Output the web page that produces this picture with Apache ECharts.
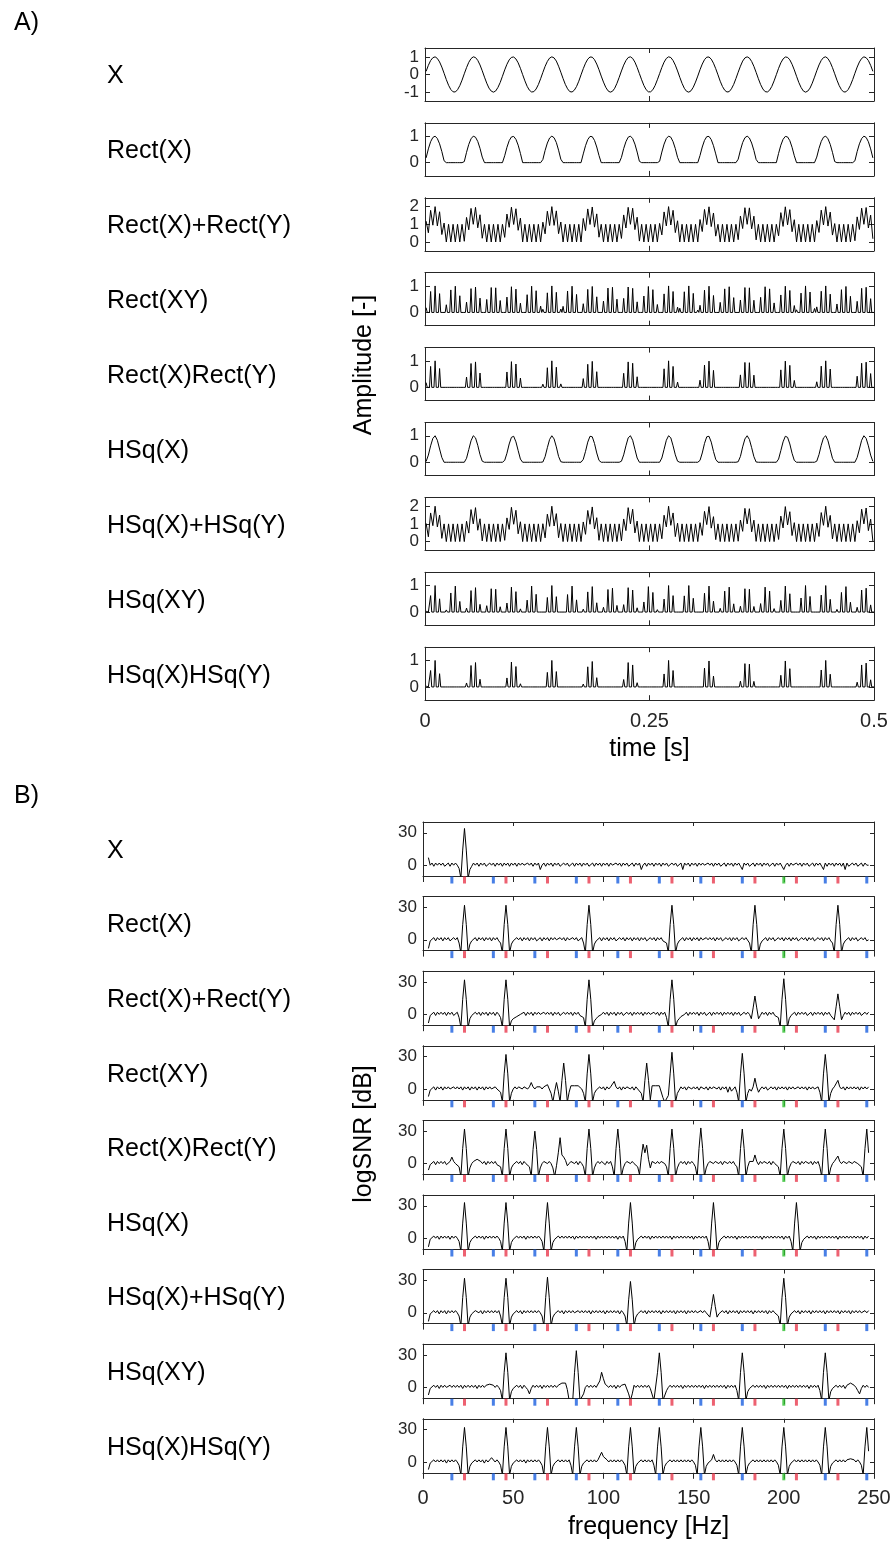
<!DOCTYPE html>
<html><head><meta charset="utf-8">
<script src="https://cdn.jsdelivr.net/npm/echarts@6.0.0/dist/echarts.min.js"></script>
<style>html,body{margin:0;padding:0;background:#fff}#c{width:895px;height:1542px}</style>
</head><body><div id="c"></div>
<script>
// ---------------- DATA ----------------
const rowLabels = ['X','Rect(X)','Rect(X)+Rect(Y)','Rect(XY)','Rect(X)Rect(Y)','HSq(X)','HSq(X)+HSq(Y)','HSq(XY)','HSq(X)HSq(Y)'];
// Panel A: time samples (s)
const tStart = 0.00125, tStep = 0.0025, tStepFine = 0.00125;
const timeTicks = [0, 0.25, 0.5];
const ampTicks = [[-1,0,1],[0,1],[0,1,2],[0,1],[0,1],[0,1],[0,1,2],[0,1],[0,1]];
const ampMin = [-1.5,-0.5,-0.5,-0.5,-0.5,-0.5,-0.5,-0.5,-0.5];
const ampMax = [1.5,1.5,2.5,1.5,1.5,1.5,2.5,1.5,1.5];

const sigX = [0.18,0.52,0.79,0.95,1,0.91,0.71,0.42,0.07,-0.29,
-0.61,-0.85,-0.98,-0.99,-0.86,-0.63,-0.32,0.04,0.39,0.69,
0.9,1,0.96,0.8,0.54,0.21,-0.15,-0.49,-0.77,-0.94,
-1,-0.93,-0.73,-0.45,-0.1,0.26,0.58,0.83,0.97,0.99,
0.88,0.66,0.35,-0.01,-0.36,-0.67,-0.89,-0.99,-0.97,-0.82,
-0.57,-0.24,0.12,0.46,0.74,0.93,1,0.94,0.76,0.47,
0.13,-0.23,-0.56,-0.81,-0.97,-0.99,-0.89,-0.68,-0.38,-0.02,
0.33,0.64,0.87,0.99,0.98,0.84,0.59,0.27,-0.09,-0.43,
-0.72,-0.92,-1,-0.95,-0.78,-0.5,-0.16,0.2,0.53,0.79,
0.96,1,0.91,0.7,0.4,0.05,-0.3,-0.62,-0.86,-0.98,
-0.98,-0.86,-0.62,-0.3,0.05,0.4,0.7,0.91,1,0.96,
0.79,0.53,0.2,-0.16,-0.5,-0.78,-0.95,-1,-0.92,-0.72,
-0.43,-0.09,0.27,0.59,0.84,0.98,0.99,0.87,0.64,0.33,
-0.02,-0.38,-0.68,-0.89,-0.99,-0.97,-0.81,-0.56,-0.23,0.13,
0.47,0.76,0.94,1,0.93,0.74,0.46,0.12,-0.24,-0.57,
-0.82,-0.97,-0.99,-0.89,-0.67,-0.36,-0.01,0.35,0.66,0.88,
0.99,0.97,0.83,0.58,0.26,-0.1,-0.45,-0.73,-0.93,-1,
-0.94,-0.77,-0.49,-0.15,0.21,0.54,0.8,0.96,1,0.9,
0.69,0.39,0.04,-0.32,-0.63,-0.86,-0.99,-0.98,-0.85,-0.61,
-0.29,0.07,0.42,0.71,0.91,1,0.95,0.79,0.52,0.18];

const sigRectX = [0.18,0.52,0.79,0.95,1,0.91,0.71,0.42,0.07,0,
0,0,0,0,0,0,0,0.04,0.39,0.69,
0.9,1,0.96,0.8,0.54,0.21,0,0,0,0,
0,0,0,0,0,0.26,0.58,0.83,0.97,0.99,
0.88,0.66,0.35,0,0,0,0,0,0,0,
0,0,0.12,0.46,0.74,0.93,1,0.94,0.76,0.47,
0.13,0,0,0,0,0,0,0,0,0,
0.33,0.64,0.87,0.99,0.98,0.84,0.59,0.27,0,0,
0,0,0,0,0,0,0,0.2,0.53,0.79,
0.96,1,0.91,0.7,0.4,0.05,0,0,0,0,
0,0,0,0,0.05,0.4,0.7,0.91,1,0.96,
0.79,0.53,0.2,0,0,0,0,0,0,0,
0,0,0.27,0.59,0.84,0.98,0.99,0.87,0.64,0.33,
0,0,0,0,0,0,0,0,0,0.13,
0.47,0.76,0.94,1,0.93,0.74,0.46,0.12,0,0,
0,0,0,0,0,0,0,0.35,0.66,0.88,
0.99,0.97,0.83,0.58,0.26,0,0,0,0,0,
0,0,0,0,0.21,0.54,0.8,0.96,1,0.9,
0.69,0.39,0.04,0,0,0,0,0,0,0,
0,0.07,0.42,0.71,0.91,1,0.95,0.79,0.52,0.18];

const sigRectXpRectY = [1.18,0.52,1.79,0.95,2,0.91,1.71,0.42,1.07,0,
1,0,1,0,1,0,1,0.04,1.39,0.69,
1.9,1,1.96,0.8,1.54,0.21,1,0,1,0,
1,0,1,0,1,0.26,1.58,0.83,1.97,0.99,
1.88,0.66,1.35,0,1,0,1,0,1,0,
1,0,1.12,0.46,1.74,0.93,2,0.94,1.76,0.47,
1.13,0,1,0,1,0,1,0,1,0,
1.33,0.64,1.87,0.99,1.98,0.84,1.59,0.27,1,0,
1,0,1,0,1,0,1,0.2,1.53,0.79,
1.96,1,1.91,0.7,1.4,0.05,1,0,1,0,
1,0,1,0,1.05,0.4,1.7,0.91,2,0.96,
1.79,0.53,1.2,0,1,0,1,0,1,0,
1,0,1.27,0.59,1.84,0.98,1.99,0.87,1.64,0.33,
1,0,1,0,1,0,1,0,1,0.13,
1.47,0.76,1.94,1,1.93,0.74,1.46,0.12,1,0,
1,0,1,0,1,0,1,0.35,1.66,0.88,
1.99,0.97,1.83,0.58,1.26,0,1,0,1,0,
1,0,1,0,1.21,0.54,1.8,0.96,2,0.9,
1.69,0.39,1.04,0,1,0,1,0,1,0,
1,0.07,1.42,0.71,1.91,1,1.95,0.79,1.52,0.18];

const sigRectXY = [0.18,0,0,0,0.79,0,0,0,1,0,0,0,0.71,0,0,0,0.07,0,0.29,0,
0,0,0.85,0,0,0,0.99,0,0,0,0.63,0,0,0,0,0,0.39,0,0,0,
0.9,0,0,0,0.96,0,0,0,0.54,0,0,0,0,0,0.49,0,0,0,0.94,0,
0,0,0.93,0,0,0,0.45,0,0,0,0,0,0.58,0,0,0,0.97,0,0,0,
0.88,0,0,0,0.35,0,0.01,0,0,0,0.67,0,0,0,0.99,0,0,0,0.82,0,
0,0,0.24,0,0.12,0,0,0,0.74,0,0,0,1,0,0,0,0.76,0,0,0,
0.13,0,0.23,0,0,0,0.81,0,0,0,0.99,0,0,0,0.68,0,0,0,0.02,0,
0.33,0,0,0,0.87,0,0,0,0.98,0,0,0,0.59,0,0,0,0,0,0.43,0,
0,0,0.92,0,0,0,0.95,0,0,0,0.5,0,0,0,0,0,0.53,0,0,0,
0.96,0,0,0,0.91,0,0,0,0.4,0,0,0,0,0,0.62,0,0,0,0.98,0,
0,0,0.86,0,0,0,0.3,0,0.05,0,0,0,0.7,0,0,0,1,0,0,0,
0.79,0,0,0,0.2,0,0.16,0,0,0,0.78,0,0,0,1,0,0,0,0.72,0,
0,0,0.09,0,0.27,0,0,0,0.84,0,0,0,0.99,0,0,0,0.64,0,0,0,
0,0,0.38,0,0,0,0.89,0,0,0,0.97,0,0,0,0.56,0,0,0,0,0,
0.47,0,0,0,0.94,0,0,0,0.93,0,0,0,0.46,0,0,0,0,0,0.57,0,
0,0,0.97,0,0,0,0.89,0,0,0,0.36,0,0,0,0,0,0.66,0,0,0,
0.99,0,0,0,0.83,0,0,0,0.26,0,0.1,0,0,0,0.73,0,0,0,1,0,
0,0,0.77,0,0,0,0.15,0,0.21,0,0,0,0.8,0,0,0,1,0,0,0,
0.69,0,0,0,0.04,0,0.32,0,0,0,0.86,0,0,0,0.98,0,0,0,0.61,0,
0,0,0,0,0.42,0,0,0,0.91,0,0,0,0.95,0,0,0,0.52,0,0,0];

const sigRectXRectY = [0.18,0,0,0,0.79,0,0,0,1,0,0,0,0.71,0,0,0,0.07,0,0,0,
0,0,0,0,0,0,0,0,0,0,0,0,0,0,0,0,0.39,0,0,0,
0.9,0,0,0,0.96,0,0,0,0.54,0,0,0,0,0,0,0,0,0,0,0,
0,0,0,0,0,0,0,0,0,0,0,0,0.58,0,0,0,0.97,0,0,0,
0.88,0,0,0,0.35,0,0,0,0,0,0,0,0,0,0,0,0,0,0,0,
0,0,0,0,0.12,0,0,0,0.74,0,0,0,1,0,0,0,0.76,0,0,0,
0.13,0,0,0,0,0,0,0,0,0,0,0,0,0,0,0,0,0,0,0,
0.33,0,0,0,0.87,0,0,0,0.98,0,0,0,0.59,0,0,0,0,0,0,0,
0,0,0,0,0,0,0,0,0,0,0,0,0,0,0,0,0.53,0,0,0,
0.96,0,0,0,0.91,0,0,0,0.4,0,0,0,0,0,0,0,0,0,0,0,
0,0,0,0,0,0,0,0,0.05,0,0,0,0.7,0,0,0,1,0,0,0,
0.79,0,0,0,0.2,0,0,0,0,0,0,0,0,0,0,0,0,0,0,0,
0,0,0,0,0.27,0,0,0,0.84,0,0,0,0.99,0,0,0,0.64,0,0,0,
0,0,0,0,0,0,0,0,0,0,0,0,0,0,0,0,0,0,0,0,
0.47,0,0,0,0.94,0,0,0,0.93,0,0,0,0.46,0,0,0,0,0,0,0,
0,0,0,0,0,0,0,0,0,0,0,0,0,0,0,0,0.66,0,0,0,
0.99,0,0,0,0.83,0,0,0,0.26,0,0,0,0,0,0,0,0,0,0,0,
0,0,0,0,0,0,0,0,0.21,0,0,0,0.8,0,0,0,1,0,0,0,
0.69,0,0,0,0.04,0,0,0,0,0,0,0,0,0,0,0,0,0,0,0,
0,0,0,0,0.42,0,0,0,0.91,0,0,0,0.95,0,0,0,0.52,0,0,0];

const sigHSqX = [0.03,0.27,0.62,0.9,1,0.83,0.5,0.18,0,0,
0,0,0,0,0,0,0,0,0.15,0.48,
0.81,1,0.92,0.64,0.29,0.04,0,0,0,0,
0,0,0,0,0,0.07,0.34,0.69,0.94,0.98,
0.77,0.44,0.12,0,0,0,0,0,0,0,
0,0,0.01,0.21,0.55,0.86,1,0.88,0.58,0.22,
0.02,0,0,0,0,0,0,0,0,0,
0.11,0.41,0.76,0.98,0.96,0.71,0.35,0.07,0,0,
0,0,0,0,0,0,0,0.04,0.28,0.62,
0.92,1,0.83,0.49,0.16,0,0,0,0,0,
0,0,0,0,0,0.16,0.49,0.83,1,0.92,
0.62,0.28,0.04,0,0,0,0,0,0,0,
0,0,0.07,0.35,0.71,0.96,0.98,0.76,0.41,0.11,
0,0,0,0,0,0,0,0,0,0.02,
0.22,0.58,0.88,1,0.86,0.55,0.21,0.01,0,0,
0,0,0,0,0,0,0,0.12,0.44,0.77,
0.98,0.94,0.69,0.34,0.07,0,0,0,0,0,
0,0,0,0,0.04,0.29,0.64,0.92,1,0.81,
0.48,0.15,0,0,0,0,0,0,0,0,
0,0,0.18,0.5,0.83,1,0.9,0.62,0.27,0.03];

const sigHSqXpHSqY = [1.03,0.27,1.62,0.9,2,0.83,1.5,0.18,1,0,
1,0,1,0,1,0,1,0,1.15,0.48,
1.81,1,1.92,0.64,1.29,0.04,1,0,1,0,
1,0,1,0,1,0.07,1.34,0.69,1.94,0.98,
1.77,0.44,1.12,0,1,0,1,0,1,0,
1,0,1.01,0.21,1.55,0.86,2,0.88,1.58,0.22,
1.02,0,1,0,1,0,1,0,1,0,
1.11,0.41,1.76,0.98,1.96,0.71,1.35,0.07,1,0,
1,0,1,0,1,0,1,0.04,1.28,0.62,
1.92,1,1.83,0.49,1.16,0,1,0,1,0,
1,0,1,0,1,0.16,1.49,0.83,2,0.92,
1.62,0.28,1.04,0,1,0,1,0,1,0,
1,0,1.07,0.35,1.71,0.96,1.98,0.76,1.41,0.11,
1,0,1,0,1,0,1,0,1,0.02,
1.22,0.58,1.88,1,1.86,0.55,1.21,0.01,1,0,
1,0,1,0,1,0,1,0.12,1.44,0.77,
1.98,0.94,1.69,0.34,1.07,0,1,0,1,0,
1,0,1,0,1.04,0.29,1.64,0.92,2,0.81,
1.48,0.15,1,0,1,0,1,0,1,0,
1,0,1.18,0.5,1.83,1,1.9,0.62,1.27,0.03];

const sigHSqXY = [0.03,0,0,0,0.62,0,0,0,1,0,0,0,0.5,0,0,0,0,0,0.08,0,
0,0,0.72,0,0,0,0.98,0,0,0,0.4,0,0,0,0,0,0.15,0,0,0,
0.81,0,0,0,0.92,0,0,0,0.29,0,0,0,0,0,0.24,0,0,0,0.88,0,
0,0,0.86,0,0,0,0.2,0,0,0,0,0,0.34,0,0,0,0.94,0,0,0,
0.77,0,0,0,0.12,0,0,0,0,0,0.45,0,0,0,0.98,0,0,0,0.67,0,
0,0,0.06,0,0.01,0,0,0,0.55,0,0,0,1,0,0,0,0.58,0,0,0,
0.02,0,0.05,0,0,0,0.66,0,0,0,0.98,0,0,0,0.46,0,0,0,0,0,
0.11,0,0,0,0.76,0,0,0,0.96,0,0,0,0.35,0,0,0,0,0,0.18,0,
0,0,0.85,0,0,0,0.9,0,0,0,0.25,0,0,0,0,0,0.28,0,0,0,
0.92,0,0,0,0.83,0,0,0,0.16,0,0,0,0,0,0.38,0,0,0,0.96,0,
0,0,0.74,0,0,0,0.09,0,0,0,0,0,0.49,0,0,0,1,0,0,0,
0.62,0,0,0,0.04,0,0.03,0,0,0,0.61,0,0,0,1,0,0,0,0.52,0,
0,0,0.01,0,0.07,0,0,0,0.71,0,0,0,0.98,0,0,0,0.41,0,0,0,
0,0,0.14,0,0,0,0.79,0,0,0,0.94,0,0,0,0.31,0,0,0,0,0,
0.22,0,0,0,0.88,0,0,0,0.86,0,0,0,0.21,0,0,0,0,0,0.32,0,
0,0,0.94,0,0,0,0.79,0,0,0,0.13,0,0,0,0,0,0.44,0,0,0,
0.98,0,0,0,0.69,0,0,0,0.07,0,0.01,0,0,0,0.53,0,0,0,1,0,
0,0,0.59,0,0,0,0.02,0,0.04,0,0,0,0.64,0,0,0,1,0,0,0,
0.48,0,0,0,0,0,0.1,0,0,0,0.74,0,0,0,0.96,0,0,0,0.37,0,
0,0,0,0,0.18,0,0,0,0.83,0,0,0,0.9,0,0,0,0.27,0,0,0];

const sigHSqXHSqY = [0.03,0,0,0,0.62,0,0,0,1,0,0,0,0.5,0,0,0,0,0,0,0,
0,0,0,0,0,0,0,0,0,0,0,0,0,0,0,0,0.15,0,0,0,
0.81,0,0,0,0.92,0,0,0,0.29,0,0,0,0,0,0,0,0,0,0,0,
0,0,0,0,0,0,0,0,0,0,0,0,0.34,0,0,0,0.94,0,0,0,
0.77,0,0,0,0.12,0,0,0,0,0,0,0,0,0,0,0,0,0,0,0,
0,0,0,0,0.01,0,0,0,0.55,0,0,0,1,0,0,0,0.58,0,0,0,
0.02,0,0,0,0,0,0,0,0,0,0,0,0,0,0,0,0,0,0,0,
0.11,0,0,0,0.76,0,0,0,0.96,0,0,0,0.35,0,0,0,0,0,0,0,
0,0,0,0,0,0,0,0,0,0,0,0,0,0,0,0,0.28,0,0,0,
0.92,0,0,0,0.83,0,0,0,0.16,0,0,0,0,0,0,0,0,0,0,0,
0,0,0,0,0,0,0,0,0,0,0,0,0.49,0,0,0,1,0,0,0,
0.62,0,0,0,0.04,0,0,0,0,0,0,0,0,0,0,0,0,0,0,0,
0,0,0,0,0.07,0,0,0,0.71,0,0,0,0.98,0,0,0,0.41,0,0,0,
0,0,0,0,0,0,0,0,0,0,0,0,0,0,0,0,0,0,0,0,
0.22,0,0,0,0.88,0,0,0,0.86,0,0,0,0.21,0,0,0,0,0,0,0,
0,0,0,0,0,0,0,0,0,0,0,0,0,0,0,0,0.44,0,0,0,
0.98,0,0,0,0.69,0,0,0,0.07,0,0,0,0,0,0,0,0,0,0,0,
0,0,0,0,0,0,0,0,0.04,0,0,0,0.64,0,0,0,1,0,0,0,
0.48,0,0,0,0,0,0,0,0,0,0,0,0,0,0,0,0,0,0,0,
0,0,0,0,0.18,0,0,0,0.83,0,0,0,0.9,0,0,0,0.27,0,0,0];

// Panel B: logSNR [dB] at 1 Hz steps from 3 Hz to 247 Hz
const fStart = 3, fStep = 1;
const freqTicks = [0, 50, 100, 150, 200, 250];
const snrTicks = [0, 30];
const blueHz = [16,39,62,85,108,131,154,177,223,246];
const redHz = [23,46,69,92,115,138,161,184,207,230];
const greenHz = [200];

const snrX = [7,0,2,-1,2,0,2,
0,2,-1,0,2,-1,2,0,2,0,
-3,-12,14,34,14,-12,-4,-1,2,0,
2,-1,2,0,2,-1,0,2,0,2,
-1,2,0,2,-1,2,0,2,-1,2,
0,2,-1,2,0,2,0,-1,2,0,
2,-1,2,0,2,-4,0,2,-1,2,
0,2,-1,2,0,2,-1,0,2,0,
2,-1,0,2,-1,2,0,2,-1,2,
0,2,-1,0,2,-1,2,0,2,-1,
2,0,2,-1,2,0,-1,2,0,2,
-1,2,0,2,-1,0,2,-1,2,0,
2,-4,0,2,-1,2,0,2,-1,2,
0,2,-1,2,0,2,-1,0,2,0,
2,-1,0,2,-4,2,0,2,-1,2,
0,2,-1,2,0,2,0,-1,2,0,
2,-1,2,0,2,-1,0,2,-1,2,
0,2,-1,2,0,2,-1,-4,2,0,
2,-1,0,2,-1,2,0,2,-1,2,
0,2,-1,0,2,-1,2,0,2,-1,
-4,0,2,-1,2,0,-1,2,0,2,
-1,2,0,2,-1,0,2,-1,2,0,
2,-1,-4,2,-1,2,0,2,-1,2,
0,2,-1,2,-4,2,-1,0,2,0,
2,-1,0,2,-1,2,0,0];

const snrRectX = [-8,-1,0,2,-1,2,0,
2,-1,2,0,2,-1,0,2,0,2,
-3,-12,14,32,14,-12,-4,-1,0,2,
-1,2,0,2,-1,2,0,2,-1,2,
0,2,-1,-3,-12,14,32,14,-12,-4,
-1,0,2,0,2,-1,2,0,2,-1,
2,0,2,-1,0,2,-1,2,0,2,
-1,2,0,2,0,-1,2,0,2,-1,
2,0,-1,2,0,2,-1,0,2,-3,
-12,14,32,14,-12,-4,-1,0,2,-1,
2,0,2,-1,2,0,2,-1,0,2,
0,2,-1,2,0,2,-1,2,0,2,
-1,2,0,2,-1,0,2,0,2,-1,
2,0,2,-1,0,-3,-12,14,32,14,
-12,-4,-1,0,2,-1,2,0,2,-1,
2,0,2,-1,2,0,-1,2,0,2,
0,2,-1,2,0,2,-1,0,2,0,
2,-1,2,0,2,-1,0,2,0,2,
2,-3,-12,14,32,14,-12,-4,-1,0,
2,-1,2,0,2,-1,0,2,0,2,
-1,2,0,2,-1,2,0,2,-1,0,
2,0,2,-1,2,0,2,-1,0,2,
0,2,-1,2,0,2,-1,-3,-12,14,
32,14,-12,-4,-1,0,2,-1,2,0,
2,-1,0,2,0,2,-1,0];

const snrRectXpRectY = [-8,-1,0,2,-1,2,0,
2,0,2,-1,2,0,2,-1,0,2,
-3,-12,14,32,14,-12,-4,-1,0,2,
0,2,-1,2,0,2,-1,2,0,2,
-1,2,0,-3,-12,14,32,14,-12,-6,
-4,-3,-2,-1,0,0,2,-1,2,0,
2,-1,2,0,2,0,-1,2,0,2,
0,2,-1,2,0,2,-1,0,2,0,
2,0,2,-1,2,0,2,-1,0,-3,
-12,14,32,14,-12,-6,-4,-2,-1,0,
2,0,2,-1,2,0,2,-1,2,0,
2,-1,0,2,0,2,-1,2,0,2,
0,2,-1,2,0,2,0,-1,2,0,
2,-1,2,0,2,-3,-12,14,32,14,
-12,-6,-4,-2,-1,0,2,-1,2,0,
2,0,2,-1,2,0,2,-1,0,2,
-1,2,0,2,0,2,-1,2,0,2,
0,2,-1,2,0,2,-1,0,2,0,
2,0,-4,6,17,6,-4,-1,2,0,
2,-1,2,0,2,-1,0,-3,-12,14,
33,14,-12,-4,-1,0,2,-1,2,0,
2,0,2,-1,0,2,-1,2,0,2,
0,2,-1,2,0,2,-1,0,-5,7,
19,7,-5,-1,2,0,2,-1,2,0,
2,0,2,-1,0,2,0,2];

const snrRectXY = [-7,-1,0,2,-1,2,0,
2,-1,2,0,2,0,-1,2,0,2,
0,2,-1,2,0,2,-1,2,0,2,
-1,2,0,2,-1,2,0,2,0,-1,
2,0,-1,-3,-12,14,32,14,-12,-4,
0,2,0,2,2,0,2,2,0,2,
6,2,0,2,2,2,0,2,2,4,
0,-4,-12,-2,6,-2,-12,8,24,8,
-12,-3,3,3,3,3,3,2,0,-4,
-12,14,32,14,-12,-4,-1,0,2,0,
2,-1,2,0,2,2,7,2,0,2,
-1,2,0,2,2,0,2,-1,2,0,
0,-4,-12,8,24,8,-10,3,4,3,
4,3,2,-8,-12,-12,-6,14,34,14,
-12,-4,-1,2,0,2,-1,2,2,0,
2,0,2,-1,2,2,0,2,-1,2,
0,2,2,0,2,-1,2,0,2,-3,
2,-2,0,2,-3,-12,14,33,14,-12,
-4,0,-2,2,10,2,-3,0,2,0,
2,-1,0,2,0,2,-1,2,0,2,
0,2,-1,2,0,2,0,-1,2,0,
2,0,2,-1,2,0,2,0,-1,2,
-3,-12,14,32,14,-12,-4,0,2,2,
8,2,0,2,-1,2,0,2,0,2,
0,2,-1,2,0,2,0,2];

const snrRectXRectY = [-6,-1,0,2,-1,2,0,
2,0,2,-1,0,2,6,2,0,-1,
-3,-12,14,32,14,-12,-4,0,2,3,
4,3,2,0,2,-1,2,0,2,0,
2,-1,0,-3,-12,14,32,14,-12,-4,
-1,0,2,0,2,-1,2,0,0,-3,
-12,13,30,13,-12,-4,0,2,2,0,
2,0,-4,-12,-2,10,24,8,6,3,
-2,0,2,2,0,2,-1,2,0,-3,
-12,14,32,14,-12,-4,0,2,0,2,
2,-1,2,0,2,-3,-12,14,32,14,
-12,-4,0,2,2,0,2,0,-1,-3,
-10,6,18,10,17,4,-4,2,2,0,
2,0,2,2,0,-3,-12,14,32,14,
-12,-4,0,2,0,2,-1,2,0,2,
0,-3,-12,14,33,14,-12,-4,0,2,
2,0,2,2,0,2,-1,2,2,0,
2,0,2,-1,-3,-12,14,32,14,-12,
-3,2,2,2,8,2,-1,2,0,2,
2,0,2,-1,2,0,0,-3,-12,14,
32,14,-12,-4,0,2,2,0,2,-1,
2,0,2,2,0,2,-1,2,0,2,
-3,-12,14,32,14,-12,-4,0,2,2,
7,2,0,2,2,0,2,2,0,2,
2,0,-1,-3,-12,14,32,10];

const snrHSqX = [-8,-1,0,2,0,2,-1,
2,0,2,0,2,-1,2,0,2,0,
-3,-12,14,33,14,-12,-4,-1,0,2,
0,2,0,2,-1,2,0,2,0,2,
0,2,0,-3,-12,14,33,14,-12,-4,
-1,0,2,0,2,0,2,-1,2,0,
2,0,2,0,2,0,-3,-12,14,33,
14,-12,-4,-1,0,2,0,2,0,2,
0,2,0,2,-1,2,0,2,0,2,
0,2,0,2,0,2,-1,2,0,2,
0,2,0,2,0,2,0,2,-1,2,
0,2,-3,-12,14,33,14,-12,-4,-1,
0,2,0,2,0,2,-1,2,0,2,
0,2,0,2,0,2,0,2,-1,2,
0,2,0,2,0,2,0,2,0,2,
-1,2,0,2,0,2,0,2,-3,-12,
14,33,14,-12,-4,-1,0,2,0,2,
0,2,0,2,-1,2,0,2,0,2,
0,2,0,2,0,2,0,2,-1,2,
0,2,0,2,0,2,0,2,0,2,
-1,2,0,2,-3,-12,14,33,14,-12,
-4,-1,0,2,0,2,0,2,-1,2,
0,2,0,2,0,2,0,2,0,2,
-1,2,0,2,0,2,0,2,0,2,
0,2,0,2,-1,2,0,2];

const snrHSqXpHSqY = [-8,-1,0,2,0,2,-1,
2,0,2,-1,2,0,2,0,2,0,
-3,-12,14,32,14,-12,-4,-1,0,2,
2,0,2,-1,2,0,2,0,2,0,
2,0,2,-3,-12,14,32,14,-12,-4,
-1,0,2,0,2,-1,2,0,2,0,
2,0,2,0,2,0,-3,-12,14,33,
14,-12,-4,-1,0,2,0,2,-1,2,
0,2,0,2,0,-1,2,0,2,0,
2,0,2,-1,2,0,2,0,2,0,
2,-1,2,0,2,0,2,0,2,-1,
2,0,-3,-12,12,29,12,-12,-4,-1,
0,2,0,2,-1,2,0,2,0,2,
0,2,-1,2,0,2,0,2,0,2,
-1,2,0,2,0,2,-1,2,0,2,
0,2,0,-1,2,0,2,0,0,-4,
6,17,6,-4,-1,0,2,0,2,-1,
2,0,2,0,2,-1,2,0,2,0,
2,0,2,-1,2,0,2,0,2,0,
2,-1,2,0,2,0,-1,-3,-12,14,
32,14,-12,-4,-1,0,2,0,2,-1,
2,0,2,0,2,-1,2,0,2,0,
2,0,2,-1,2,0,2,0,2,0,
2,-1,2,0,2,0,2,-1,2,0,
2,0,2,0,-1,2,0,2];

const snrHSqXY = [-7,-1,0,2,0,2,-1,
2,0,2,0,-1,2,0,2,0,2,
0,2,-1,2,0,2,0,2,0,2,
-1,2,0,2,0,2,2,3,4,2,
0,2,0,-3,-12,14,32,14,-12,-4,
-1,0,2,0,2,-1,2,0,-2,-6,
-1,2,0,2,0,2,-1,2,0,2,
0,2,0,2,0,2,3,4,4,4,
-2,-12,-12,-12,14,34,14,-12,-12,-6,
0,2,0,2,0,2,0,0,6,14,
8,3,2,0,2,0,2,-1,2,0,
2,2,3,4,-6,-12,-6,2,0,2,
0,2,0,2,0,2,-1,-2,-12,-12,
14,32,14,-12,-12,-3,0,2,0,2,
0,2,0,2,-1,2,0,2,0,2,
0,2,0,2,0,2,-1,2,0,2,
0,2,0,2,0,2,0,2,-1,2,
0,2,0,2,-3,-12,14,32,14,-12,
-4,-1,0,2,0,2,0,2,0,2,
-1,2,0,2,0,2,0,2,0,2,
0,2,-1,2,0,2,0,2,0,2,
0,2,0,2,-1,2,0,2,0,2,
-3,-12,14,32,14,-12,-4,-1,0,2,
0,2,0,2,-1,2,3,4,4,2,
0,-3,-6,-1,2,0,2,0];

const snrHSqXHSqY = [-7,-1,0,2,0,2,0,
2,0,2,-1,2,0,2,0,2,0,
-3,-12,14,32,14,-12,-4,-1,0,2,
0,2,0,2,-1,2,0,2,4,3,
0,2,0,-3,-12,14,32,14,-12,-4,
-1,0,2,0,2,0,2,-1,2,0,
2,0,2,0,2,0,-3,-12,14,32,
14,-12,-4,-1,0,2,0,2,0,2,
0,2,-3,-12,14,32,14,-12,-4,-1,
0,2,0,2,0,2,0,2,3,9,
5,4,2,0,2,0,2,0,2,0,
2,0,-3,-12,14,32,14,-12,-4,-1,
0,2,0,2,0,2,0,2,-3,-12,
14,32,14,-12,-4,-1,0,2,0,2,
0,2,0,2,0,2,0,2,0,2,
0,-3,-12,14,32,14,-12,-4,-1,0,
2,7,2,0,2,0,2,0,2,0,
2,0,2,0,-3,-12,14,32,14,-12,
-4,-1,0,2,0,2,0,2,0,2,
0,2,0,2,0,2,0,-3,-12,14,
32,14,-12,-4,-1,0,2,0,2,0,
2,0,2,0,2,0,2,0,2,0,
-3,-12,14,32,14,-12,-4,-1,0,2,
0,2,0,2,0,2,2,3,4,2,
0,2,0,-3,-12,14,32,10];

// ---------------- CHART ----------------
const panelA = [
  [sigX, tStep],[sigRectX, tStep],[sigRectXpRectY, tStep],[sigRectXY, tStepFine],[sigRectXRectY, tStepFine],
  [sigHSqX, tStep],[sigHSqXpHSqY, tStep],[sigHSqXY, tStepFine],[sigHSqXHSqY, tStepFine]
];
const panelB = [snrX, snrRectX, snrRectXpRectY, snrRectXY, snrRectXRectY, snrHSqX, snrHSqXpHSqY, snrHSqXY, snrHSqXHSqY];

const AX = '#262626';
const FONT = '"Liberation Sans", Arial, Helvetica, sans-serif';
const grids = [], xAxes = [], yAxes = [], series = [], graphic = [];

function addGrid(left, top, width, height, xMin, xMax, xInt, yMin, yMax, yTicks, showX, isB) {
  const gi = grids.length;
  grids.push({left, top, width, height, containLabel: false});
  const line = {show: true, onZero: false, lineStyle: {color: AX, width: 1}};
  const xi = xAxes.length;
  xAxes.push({gridIndex: gi, type: 'value', position: 'bottom', min: xMin, max: xMax, interval: xInt,
    axisLine: line,
    axisTick: {show: true, inside: !isB, length: isB ? 6 : 5, lineStyle: {color: AX, width: 1}},
    axisLabel: {show: showX, color: AX, fontSize: 20, fontFamily: FONT, margin: isB ? 16 : 11,
      showMinLabel: true, showMaxLabel: true, formatter: v => String(v)},
    splitLine: {show: false}});
  xAxes.push({gridIndex: gi, type: 'value', position: 'top', min: xMin, max: xMax, interval: xInt,
    axisLine: line,
    axisTick: {show: true, inside: true, length: isB ? 4 : 5, lineStyle: {color: AX, width: 1}},
    axisLabel: {show: false}, splitLine: {show: false}});
  const yi = yAxes.length;
  yAxes.push({gridIndex: gi, type: 'value', position: 'left', min: yMin, max: yMax,
    axisLine: line,
    axisTick: {show: true, inside: true, length: isB ? 4 : 5, customValues: yTicks, lineStyle: {color: AX, width: 1}},
    axisLabel: {show: true, customValues: yTicks, color: AX, fontSize: 17, lineHeight: 13, fontFamily: FONT, margin: 6},
    splitLine: {show: false}});
  yAxes.push({gridIndex: gi, type: 'value', position: 'right', min: yMin, max: yMax,
    axisLine: line,
    axisTick: {show: true, inside: true, length: isB ? 4 : 5, customValues: yTicks, lineStyle: {color: AX, width: 1}},
    axisLabel: {show: false}, splitLine: {show: false}});
  return {xi, yi};
}

function text(str, x, y, size, align, rot, color) {
  graphic.push({type: 'text', x, y, rotation: rot || 0, z: 100,
    style: {text: str, fill: color || '#000', fontSize: size, fontFamily: FONT,
      align: align || 'left', verticalAlign: 'middle'}});
}

// Panel A
const A_LEFT = 425, A_W = 449, A_TOP = 48, A_STEP = 74.9, A_H = 53;
panelA.forEach(([vals, step], i) => {
  const top = A_TOP + i * A_STEP;
  const {xi, yi} = addGrid(A_LEFT, top, A_W, A_H, 0, 0.5, 0.25, ampMin[i], ampMax[i], ampTicks[i], i === 8, false);
  series.push({type: 'line', xAxisIndex: xi, yAxisIndex: yi, showSymbol: false, symbol: 'none', silent: true,
    lineStyle: {color: '#000', width: 1}, clip: true, animation: false,
    data: vals.map((v, k) => [tStart + k * step, v])});
  text(rowLabels[i], 107, top + A_H / 2 + 2, 25, 'left');
});

// Panel B
const B_LEFT = 423, B_W = 451, B_TOP = 822, B_STEP = 74.6, B_H = 54;
const markerSets = [[blueHz, '#1a5fe0'], [redHz, '#e8394d'], [greenHz, '#2dbf2d']];
panelB.forEach((vals, i) => {
  const top = B_TOP + i * B_STEP;
  const {xi, yi} = addGrid(B_LEFT, top, B_W, B_H, 0, 250, 50, -10, 40, snrTicks, i === 8, true);
  series.push({type: 'line', xAxisIndex: xi, yAxisIndex: yi, showSymbol: false, symbol: 'none', silent: true,
    lineStyle: {color: '#000', width: 1}, clip: true, animation: false,
    data: vals.map((v, k) => [fStart + k * fStep, v])});
  markerSets.forEach(([fs, col]) => {
    series.push({type: 'scatter', xAxisIndex: xi, yAxisIndex: yi, silent: true, clip: false, animation: false,
      symbol: 'rect', symbolSize: [3, 7], symbolOffset: [0, 4], itemStyle: {color: col}, z: 5,
      data: fs.map(f => [f, -10])});
  });
  text(rowLabels[i], 107, top + B_H / 2 + 2, 25, 'left');
});

text('A)', 14, 23, 25, 'left');
text('B)', 14, 796, 25, 'left');
text('Amplitude [-]', 364, 365, 25, 'center', Math.PI / 2);
text('logSNR [dB]', 364, 1134, 25, 'center', Math.PI / 2);
text('time [s]', 649.5, 749, 25, 'center');
text('frequency [Hz]', 648.5, 1527, 25, 'center');

const chart = echarts.init(document.getElementById('c'), null, {renderer: 'canvas'});
chart.setOption({
  backgroundColor: '#fff', animation: false,
  grid: grids, xAxis: xAxes, yAxis: yAxes, series, graphic
});
</script></body></html>
